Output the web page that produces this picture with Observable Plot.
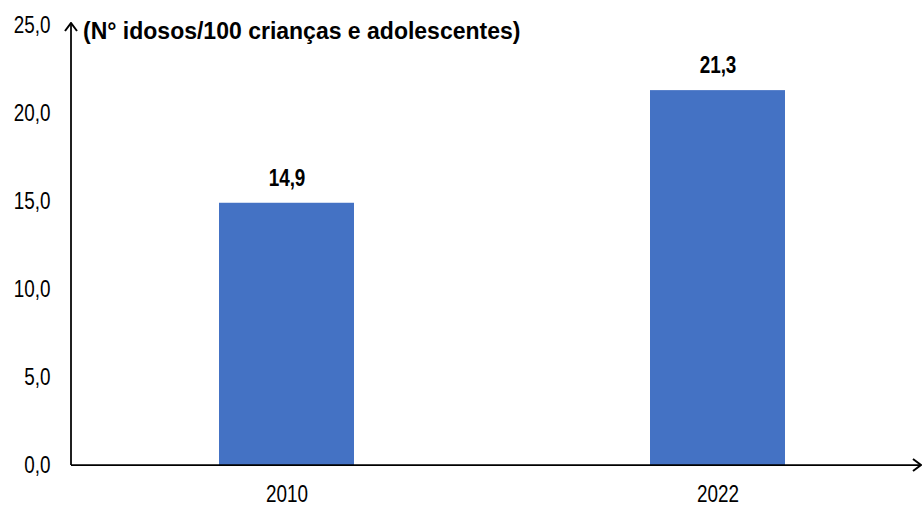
<!DOCTYPE html>
<html>
<head>
<meta charset="utf-8">
<script src="https://cdn.jsdelivr.net/npm/d3@7"></script>
<script src="https://cdn.jsdelivr.net/npm/@observablehq/plot@0.6"></script>
<style>
  html, body { margin: 0; padding: 0; background: #fff; }
  #chart { position: relative; width: 922px; height: 507px; }
</style>
</head>
<body>
<div id="chart"></div>
<script>
const years = ["2010", "2022"];
const values = [14.9, 21.3];
const yTicks = [0, 5, 10, 15, 20, 25];
const title = "(N° idosos/100 crianças e adolescentes)";

const data = years.map((y, i) => ({year: y, value: values[i]}));
const fmt = d => d.toFixed(1).replace(".", ",");
const FONT = '"Liberation Sans", Arial, sans-serif';
const NARROW = 0.77;

const plot = Plot.plot({
  width: 922,
  height: 507,
  marginTop: 25,
  marginBottom: 42,
  marginLeft: 71,
  marginRight: 0,
  style: {fontFamily: FONT, fontSize: "24.5px", color: "#000", background: "#fff"},
  x: {domain: years, range: [71, 933], paddingInner: 0.6868, paddingOuter: 0.343, label: null},
  y: {domain: [0, 25], label: null},
  marks: [
    Plot.barY(data, {x: "year", y: "value", fill: "#4472C4"}),
    Plot.text(data, {x: "year", y: "value", text: d => fmt(d.value), dy: -25, fontWeight: "bold", fontSize: 24.5, fill: "#000"}),
    Plot.axisX({tickSize: 0, tickPadding: 19, fontSize: 24.5, label: null}),
    Plot.axisY({ticks: yTicks, tickFormat: fmt, tickSize: 0, tickPadding: 21, fontSize: 24.5, label: null})
  ]
});

const svg = d3.select(plot);
// condensed look: narrow each text horizontally around its anchor point
svg.selectAll("text").each(function() {
  const el = d3.select(this);
  const t = el.attr("transform") || "";
  el.attr("transform", `${t} scale(${NARROW},1)`);
});

const yS = plot.scale("y");
const y0 = yS.apply(0);
const yTop = yS.apply(25);
const defs = svg.append("defs");
defs.append("marker").attr("id", "arr").attr("viewBox", "0 0 10 14").attr("refX", 9).attr("refY", 7)
  .attr("markerWidth", 10).attr("markerHeight", 14).attr("markerUnits", "userSpaceOnUse").attr("orient", "auto")
  .append("path").attr("d", "M1,1 L9,7 L1,13").attr("fill", "none").attr("stroke", "#000").attr("stroke-width", 2);
svg.append("line").attr("x1", 71).attr("x2", 71).attr("y1", y0).attr("y2", yTop - 2)
  .attr("stroke", "#000").attr("stroke-width", 1.75).attr("marker-end", "url(#arr)");
svg.append("line").attr("x1", 71).attr("x2", 921).attr("y1", y0).attr("y2", y0)
  .attr("stroke", "#000").attr("stroke-width", 1.75).attr("marker-end", "url(#arr)");
svg.append("text").attr("x", 83).attr("y", 38.5).attr("text-anchor", "start")
  .attr("font-family", FONT).attr("font-weight", "bold").attr("font-size", 23).attr("fill", "#000")
  .text(title);

document.getElementById("chart").appendChild(plot);
</script>
</body>
</html>
